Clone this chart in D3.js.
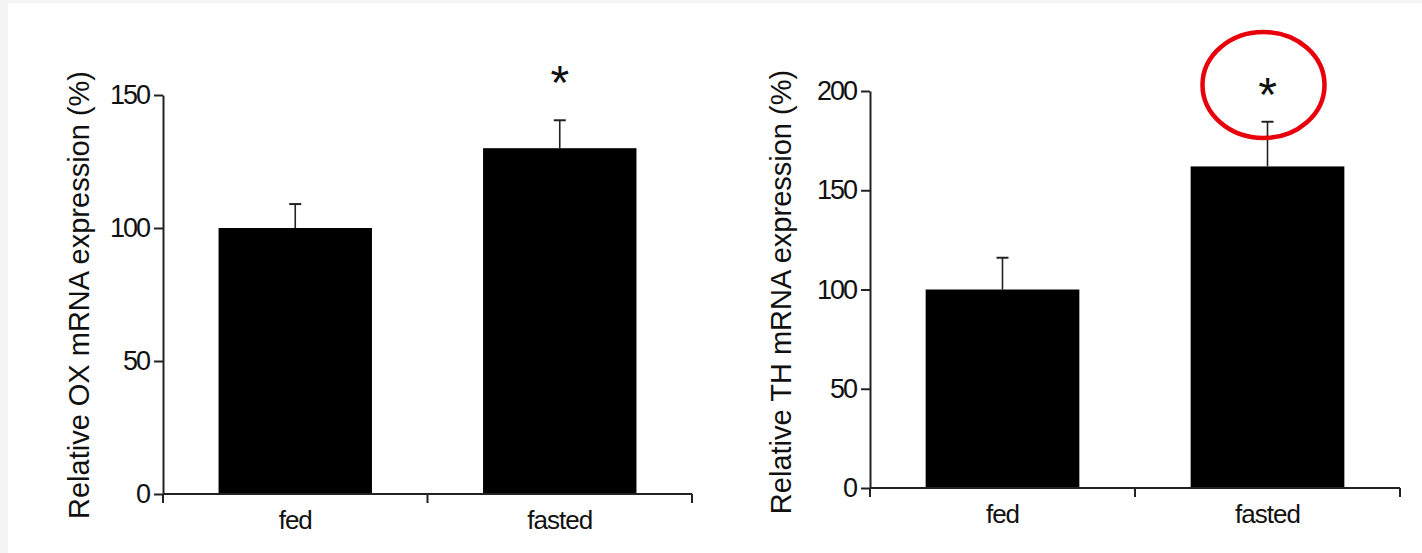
<!DOCTYPE html>
<html>
<head>
<meta charset="utf-8">
<script src="https://cdn.jsdelivr.net/npm/d3@7/dist/d3.min.js"></script>
<style>
  html, body { margin: 0; padding: 0; background: #f4f4f4; }
  svg { display: block; }
  text { font-family: "Liberation Sans", Arial, Helvetica, sans-serif; fill: #111; }
</style>
</head>
<body>
<svg id="fig" width="1422" height="553"></svg>
<script>
// Groups shown on both panels
const categories = ["fed", "fasted"];

// Orexin (OX) panel
const oxMeans = [100, 130];
const oxErrors = [9, 10.5];
const oxTicks = [0, 50, 100, 150];
const oxSignificant = [false, true];

// Tyrosine hydroxylase (TH) panel
const thMeans = [100, 162];
const thErrors = [16, 22.5];
const thTicks = [0, 50, 100, 150, 200];
const thSignificant = [false, true];

const svg = d3.select("#fig");

// white plate on the light gray page
svg.append("rect")
  .attr("x", 8).attr("y", 3)
  .attr("width", 1422 - 8).attr("height", 553 - 3)
  .attr("fill", "#ffffff");

function panel(cfg) {
  const g = svg.append("g");

  const x = d3.scaleBand()
    .domain(categories)
    .range([cfg.left, cfg.right])
    .paddingInner(0)
    .paddingOuter(0);

  const y = d3.scaleLinear()
    .domain([0, cfg.yMax])
    .range([cfg.bottom, cfg.top]);

  const barW = x.bandwidth() * 0.58;
  const data = categories.map((c, i) => ({
    cat: c, mean: cfg.means[i], err: cfg.errors[i], sig: cfg.sig[i]
  }));

  // error bars (drawn first so the bar covers the stem base)
  const eb = g.selectAll(".err").data(data).enter().append("g");
  eb.append("line")
    .attr("x1", d => x(d.cat) + x.bandwidth() / 2)
    .attr("x2", d => x(d.cat) + x.bandwidth() / 2)
    .attr("y1", d => y(d.mean))
    .attr("y2", d => y(d.mean + d.err))
    .attr("stroke", "#222").attr("stroke-width", 1.6);
  eb.append("line")
    .attr("x1", d => x(d.cat) + x.bandwidth() / 2 - 6)
    .attr("x2", d => x(d.cat) + x.bandwidth() / 2 + 6)
    .attr("y1", d => y(d.mean + d.err))
    .attr("y2", d => y(d.mean + d.err))
    .attr("stroke", "#222").attr("stroke-width", 2);

  // bars
  g.selectAll(".bar").data(data).enter().append("rect")
    .attr("x", d => x(d.cat) + (x.bandwidth() - barW) / 2)
    .attr("y", d => y(d.mean))
    .attr("width", barW)
    .attr("height", d => y(0) - y(d.mean))
    .attr("fill", "#000");

  // significance marks
  g.selectAll(".sig").data(data.filter(d => d.sig)).enter().append("text")
    .attr("x", d => x(d.cat) + x.bandwidth() / 2)
    .attr("y", cfg.starY)
    .attr("text-anchor", "middle")
    .attr("font-size", 48)
    .attr("fill", "#222")
    .text("*");

  // y axis
  const yAxis = g.append("g")
    .attr("transform", `translate(${cfg.left},0)`)
    .call(d3.axisLeft(y).tickValues(cfg.ticks).tickSize(9).tickPadding(5).tickSizeOuter(0));
  yAxis.select(".domain").attr("stroke", "#222").attr("stroke-width", 2);
  yAxis.selectAll(".tick line").attr("stroke", "#222").attr("stroke-width", 2);
  yAxis.selectAll(".tick text")
    .attr("font-size", 27).attr("fill", "#111")
    .attr("font-family", "Liberation Sans, Arial, sans-serif")
    .attr("letter-spacing", "-2");

  // x axis: ticks sit on the band boundaries
  const xAxisLine = g.append("g");
  xAxisLine.append("line")
    .attr("x1", cfg.left).attr("x2", cfg.right)
    .attr("y1", y(0)).attr("y2", y(0))
    .attr("stroke", "#222").attr("stroke-width", 2);
  const bounds = [x.range()[0], x(categories[1]), x.range()[1]];
  xAxisLine.selectAll(".xt").data(bounds).enter().append("line")
    .attr("x1", d => d).attr("x2", d => d)
    .attr("y1", y(0)).attr("y2", y(0) + 9)
    .attr("stroke", "#222").attr("stroke-width", 2);
  xAxisLine.selectAll(".xl").data(categories).enter().append("text")
    .attr("x", d => x(d) + x.bandwidth() / 2)
    .attr("y", y(0) + 35)
    .attr("text-anchor", "middle")
    .attr("font-size", 26)
    .attr("letter-spacing", "-1")
    .text(d => d);

  // y axis title
  g.append("text")
    .attr("transform", `translate(${cfg.titleX},${cfg.titleY}) rotate(-90)`)
    .attr("text-anchor", "middle")
    .attr("font-size", 29)
    .text(cfg.title);

  return { x, y };
}

panel({
  left: 163, right: 692, top: 95, bottom: 494, yMax: 150,
  means: oxMeans, errors: oxErrors, ticks: oxTicks, sig: oxSignificant,
  starY: 99, title: "Relative OX mRNA expression (%)", titleX: 89, titleY: 295
});

const th = panel({
  left: 870, right: 1400, top: 91, bottom: 488, yMax: 200,
  means: thMeans, errors: thErrors, ticks: thTicks, sig: thSignificant,
  starY: 111, title: "Relative TH mRNA expression (%)", titleX: 791, titleY: 292
});

// red highlight ring around the TH significance mark
svg.append("ellipse")
  .attr("cx", th.x("fasted") + th.x.bandwidth() / 2 - 4)
  .attr("cy", 85)
  .attr("rx", 61).attr("ry", 53)
  .attr("fill", "none")
  .attr("stroke", "#e8000b")
  .attr("stroke-width", 4.5);
</script>
</body>
</html>
